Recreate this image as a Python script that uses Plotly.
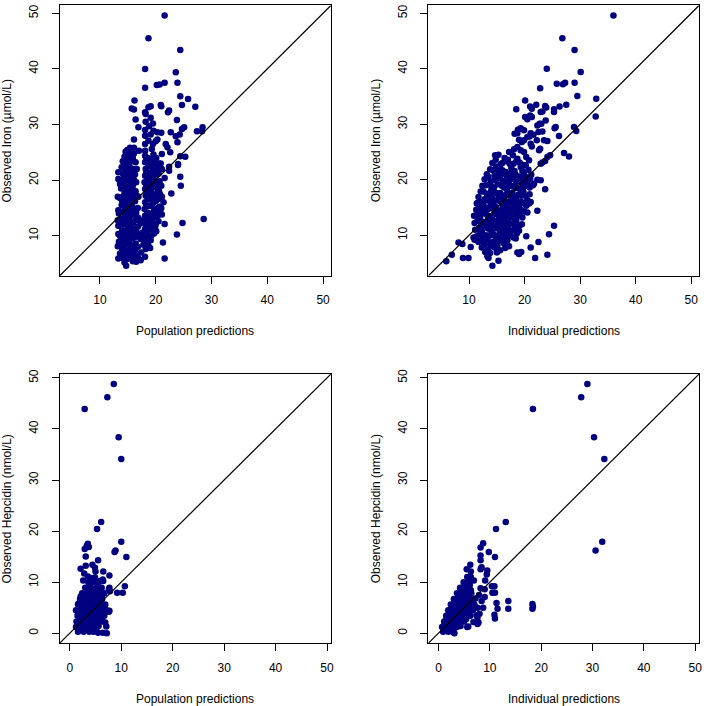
import plotly.graph_objects as go

# ---------------- data ----------------
# Panel 1: observed iron vs population predictions  [pred, obs]
iron_pop_outer = [
    [21.6,49.6],[18.7,45.5],[24.4,43.4],[18.1,40.0],[23.6,39.4],[23.9,37.5],[21.6,37.5],[20.2,37.1],
    [20.7,37.2],[18.1,36.6],[24.4,35.1],[25.8,34.6],[16.2,34.3],[24.7,33.5],[27.1,33.2],[20.9,33.5],
    [21.0,33.3],[19.1,33.3],[18.7,33.1],[15.7,32.9],[16.1,32.7],[22.4,32.5],[22.2,32.2],[18.1,32.2],
    [18.2,31.9],[23.8,30.8],[16.4,30.9],[25.1,29.5],[24.7,29.2],[28.4,29.5],[27.4,28.8],[28.3,28.8],
    [20.3,28.6],[21.0,28.5],[22.7,28.6],[23.6,27.9],[24.3,28.2],[16.9,29.5],[16.1,27.3],[20.3,27.3],
    [23.9,26.8],[21.8,26.5],[22.1,25.9],[16.1,25.8],[17.0,25.3],[22.6,25.0],[21.1,24.7],[24.4,24.3],
    [25.3,24.2],[22.4,22.4],[22.4,21.7],[24.0,22.9],[24.0,22.7],[24.4,20.6],[24.5,19.0],[22.8,17.6],
    [28.6,13.0],[24.8,12.3],[21.6,12.1],[23.8,10.2],[21.3,8.8],[21.6,5.9],[19.0,7.8],[14.7,4.6],
    [19.1,31.2],[19.5,30.2],[18.8,29.7],[18.2,30.5],[18.1,29.0],[18.1,28.0],[19.1,28.2],[19.6,28.9],
    [20.0,27.0],[19.5,26.5],[18.7,27.1],[19.3,25.6],[18.1,26.5],[18.1,25.3],
]
iron_pop_core = [
    [13.3,21.4],[13.3,20.2],[13.2,17.0],[13.3,14.6],[13.4,14.0],[13.2,12.8],[13.3,11.8],[13.3,10.3],
    [13.4,8.9],[13.2,8.1],[13.3,5.9],
    [13.9,22.3],[13.8,18.5],[14.0,16.2],[13.9,15.5],[13.8,13.0],[14.0,11.0],[13.9,9.5],[13.8,8.0],[14.0,7.3],
    [14.4,24.2],[14.5,22.0],[14.3,20.6],[14.5,19.0],[14.4,17.6],[14.3,16.0],[14.5,14.8],[14.4,13.4],
    [14.3,12.0],[14.5,10.6],[14.4,9.2],[14.3,7.8],[14.5,6.4],[14.4,5.2],
    [14.9,25.4],[15.0,24.4],[14.8,23.3],[14.9,21.2],[15.0,20.0],[14.8,18.2],[14.9,16.8],[15.0,15.4],
    [14.8,14.0],[14.9,12.7],[15.0,11.2],[14.9,9.8],[14.8,8.5],[15.0,7.2],[14.9,5.8],
    [15.4,25.8],[15.5,24.8],[15.3,22.6],[15.4,21.4],[15.5,19.4],[15.3,17.6],[15.4,16.0],[15.5,14.6],
    [15.3,13.2],[15.4,11.9],[15.5,10.4],[15.3,9.0],[15.4,7.6],[15.5,6.6],
    [15.9,24.0],[16.0,22.0],[15.8,20.5],[15.9,19.0],[16.0,17.2],[15.8,15.2],[15.9,13.8],[16.0,12.4],
    [15.8,11.0],[15.9,9.6],[16.0,8.2],[15.8,7.0],[15.9,5.4],
    [16.4,23.2],[16.3,21.0],[16.5,19.6],[16.4,18.0],[16.3,16.2],[16.5,14.2],[16.4,12.8],[16.3,11.2],
    [16.5,9.8],[16.4,8.6],[16.3,7.4],[16.5,5.3],
    [16.9,17.0],[16.8,15.0],[16.9,13.2],[16.8,11.6],[16.9,10.0],[16.8,8.0],[16.9,6.0],
    [17.3,12.2],[17.3,9.4],[17.4,7.0],[17.3,5.6],
    [17.8,12.8],[17.7,10.6],[17.8,8.4],
    [13.6,19.3],[13.6,16.8],[13.6,12.2],[13.6,10.0],[13.6,6.8],[14.1,23.4],[14.1,21.2],[14.1,19.8],
    [14.1,17.0],[14.1,14.3],[14.1,12.5],[14.1,10.2],[14.1,8.6],[14.1,6.0],[14.6,25.1],[14.6,23.0],
    [14.6,21.5],[14.6,18.4],[14.6,15.5],[14.6,12.7],[14.6,10.0],[14.6,7.1],[15.2,23.8],[15.2,22.0],
    [15.2,20.6],[15.2,18.8],[15.2,17.2],[15.2,15.0],[15.2,13.0],[15.2,11.0],[15.2,8.6],[15.2,6.2],
    [15.7,23.5],[15.7,21.6],[15.7,18.2],[15.7,16.6],[15.7,14.0],[15.7,12.2],[15.7,9.8],[15.7,8.0],
    [16.1,24.8],[16.1,20.0],[16.1,17.8],[16.1,14.6],[16.1,10.4],[16.1,6.4],[16.6,22.0],[16.6,17.2],
    [16.6,13.4],[16.6,10.6],[16.6,6.4],
    [18.1,24.4],[18.1,23.2],[18.2,22.0],[18.1,20.8],[18.0,19.6],[18.1,18.4],[18.2,17.2],[18.1,16.0],
    [18.0,14.8],[18.1,13.6],[18.2,12.4],[18.1,11.2],[18.0,10.0],[18.1,8.8],[18.2,7.6],[18.1,6.2],
    [18.6,24.0],[18.7,22.6],[18.5,21.4],[18.6,20.2],[18.7,19.0],[18.5,17.8],[18.6,16.6],[18.7,15.4],
    [18.5,14.2],[18.6,13.0],[18.7,11.8],[18.5,10.6],[18.6,9.4],[18.7,8.2],
    [19.1,23.8],[19.2,22.4],[19.0,21.0],[19.1,19.6],[19.2,18.2],[19.0,16.8],[19.1,15.4],[19.2,14.0],
    [19.0,12.6],[19.1,11.2],[19.2,10.0],[19.1,9.2],
    [19.6,24.6],[19.7,23.0],[19.5,21.6],[19.6,20.2],[19.7,18.8],[19.5,17.4],[19.6,16.0],[19.7,14.6],
    [19.5,13.2],[19.6,11.8],[19.7,10.4],
    [20.1,24.0],[20.2,22.2],[20.0,20.8],[20.1,19.2],[20.2,17.6],[20.0,16.2],[20.1,14.8],[20.2,13.4],
    [20.0,12.0],[20.1,10.8],
    [20.6,23.0],[20.5,21.2],[20.7,19.8],[20.6,18.0],[20.5,16.6],[20.7,15.2],[20.6,13.8],[20.5,12.6],
    [21.1,22.0],[21.0,19.0],[21.1,17.0],[21.0,15.0],[21.1,13.8],[21.6,20.4],[21.4,16.0],[20.9,23.0],
    [18.3,24.0],[18.3,21.4],[18.3,18.8],[18.3,15.4],[18.3,12.0],[18.3,9.4],[18.9,23.2],[18.9,20.6],
    [18.9,17.2],[18.9,13.6],[18.9,10.0],[19.4,22.6],[19.4,19.0],[19.4,15.8],[19.4,12.4],[19.9,23.4],
    [19.9,19.8],[19.9,16.8],[19.9,13.8],[19.9,11.4],[20.4,21.8],[20.4,18.4],[20.4,15.0],[20.8,17.4],
    [20.8,14.4],
]

# Panel 2: observed iron vs individual predictions  [pred, obs]
iron_ind_outer = [
    [36.0,49.6],[26.8,45.5],[29.0,43.4],[24.0,40.0],[30.1,39.4],[22.8,36.5],[25.8,37.3],[26.9,37.2],
    [27.3,37.5],[29.0,37.5],[29.5,35.1],[32.9,34.6],[20.1,34.3],[27.5,33.5],[26.3,33.2],[23.7,33.3],
    [23.9,33.0],[21.0,33.2],[21.3,32.8],[22.1,33.5],[18.5,32.7],[25.3,32.7],[25.3,32.2],[22.9,32.2],
    [23.2,32.3],[32.8,31.4],[23.8,30.7],[20.1,31.3],[20.5,30.9],[21.0,31.6],[21.3,31.3],[25.6,29.5],
    [25.4,29.3],[28.9,29.5],[29.3,28.8],[22.7,30.1],[23.0,30.1],[22.3,29.8],[23.2,28.7],[22.5,28.6],
    [26.2,27.9],[18.8,29.0],[19.3,29.3],[19.9,28.9],[18.2,28.3],[18.7,28.4],[21.1,28.4],[21.6,28.1],
    [20.5,27.7],[20.9,27.8],[19.0,27.2],[19.5,26.8],[19.9,27.1],[23.5,27.1],[24.1,27.0],[22.2,27.1],
    [21.1,26.5],[21.3,26.0],[27.1,24.8],[28.0,24.2],[24.6,24.4],[24.1,24.1],[22.8,25.6],[22.6,25.3],
    [23.7,23.4],[23.2,23.1],[22.9,22.9],[19.9,25.0],[19.3,25.3],[14.7,24.4],[23.7,18.3],[22.3,20.0],
    [22.9,19.9],[21.5,19.0],[21.7,19.3],[20.8,15.7],[22.3,14.4],[11.4,15.7],[25.3,11.7],[24.4,10.2],
    [20.3,9.8],[22.5,8.8],[21.1,7.8],[18.7,6.9],[19.0,6.6],[19.4,7.0],[24.1,6.5],[21.9,5.9],
    [15.3,5.4],[14.2,4.5],[13.3,6.2],[13.5,5.9],[8.9,5.9],[9.9,5.9],[6.9,6.5],[5.9,5.3],
    [8.1,8.7],[8.8,8.4],[10.3,7.9],[10.8,9.6],[11.0,9.2],[17.2,25.0],[18.1,25.5],[18.7,25.9],
]
iron_ind_core = [
    [15.3,24.5],[16.4,23.9],[17.9,24.4],[18.7,23.8],[20.3,24.1],
    [14.2,23.0],[15.7,22.8],[16.5,23.4],[17.3,22.9],[18.5,23.3],[19.6,22.7],[20.8,23.5],
    [13.8,21.9],[14.9,22.4],[16.0,21.7],[17.6,22.1],[18.2,21.6],[19.3,22.3],[20.7,21.8],
    [13.2,21.0],[14.6,20.8],[15.4,21.4],[16.8,20.7],[17.7,21.3],[19.0,20.6],[19.9,21.1],[21.2,20.9],
    [12.8,20.1],[13.9,19.7],[15.2,20.3],[16.1,19.8],[17.4,20.0],[18.5,19.6],[19.6,20.2],[20.4,19.5],
    [12.4,18.9],[13.7,19.1],[14.5,18.6],[15.9,18.9],[16.8,18.4],[18.1,18.8],[19.2,18.3],[20.3,18.9],[21.4,19.0],
    [12.1,17.9],[13.2,17.5],[14.3,17.9],[15.6,17.6],[16.5,17.2],[17.8,17.7],[18.9,17.3],[19.8,17.8],[20.9,17.4],
    [11.7,16.9],[12.8,16.5],[14.1,16.8],[15.0,16.3],[16.3,16.6],[17.2,16.1],[18.5,16.5],[19.4,16.0],[20.5,16.3],
    [11.5,15.8],[12.6,15.4],[13.9,15.7],[14.8,15.1],[16.0,15.5],[17.0,15.0],[18.1,15.4],[19.1,14.9],[20.3,15.3],[21.1,16.0],
    [11.3,14.6],[12.4,14.2],[13.4,14.7],[14.6,14.1],[15.7,14.5],[16.6,13.9],[17.9,14.4],[18.8,13.8],[19.9,14.3],
    [10.9,13.5],[12.0,13.1],[13.3,13.6],[14.2,12.9],[15.4,13.4],[16.4,12.8],[17.5,13.3],[18.5,12.7],[19.6,13.2],[20.5,14.1],
    [11.0,12.2],[12.2,11.9],[13.0,12.4],[14.4,11.8],[15.2,12.3],[16.6,11.7],[17.4,12.1],[18.7,11.6],[19.5,12.0],
    [11.1,11.0],[12.3,10.7],[13.4,11.2],[14.1,10.5],[15.5,10.9],[16.3,10.4],[17.7,10.8],[18.6,10.3],
    [11.4,9.8],[12.5,9.5],[13.7,9.9],[14.8,9.3],[15.8,9.7],[16.9,9.1],[18.0,9.6],[19.0,10.8],
    [11.7,8.8],[12.9,8.4],[13.9,8.7],[15.1,8.2],[16.2,8.6],[17.2,8.0],
    [12.3,7.8],[13.4,7.4],[14.5,7.9],[15.6,7.3],[16.5,7.7],
    [12.9,7.0],[13.8,6.8],[15.0,6.9],
    [14.0,18.1],[15.3,16.9],[16.9,17.8],[17.6,16.8],[18.3,14.1],[15.9,12.9],[17.0,11.3],[13.6,12.6],
    [16.1,14.2],[17.3,14.7],[18.4,11.0],[14.7,9.9],[13.0,15.0],[12.0,14.7],[17.1,19.3],[19.7,19.2],
    [14.8,23.6],[16.0,23.0],[17.0,23.6],[18.0,22.9],[19.1,23.1],[20.2,22.6],
    [14.3,21.7],[15.5,22.0],[16.6,21.4],[17.1,21.1],[18.4,20.9],[19.6,21.6],[20.2,20.5],
    [13.5,20.5],[14.6,19.9],[15.7,20.8],[16.7,19.6],[17.9,20.4],[19.0,19.7],[21.0,20.1],
    [13.0,19.0],[14.1,18.7],[15.2,19.2],[16.3,18.6],[17.5,18.9],[18.6,18.5],[19.8,18.6],[20.9,18.6],
    [12.6,17.9],[13.7,17.2],[14.9,17.6],[16.0,17.1],[17.3,17.4],[18.3,17.0],[19.4,17.1],[20.3,17.0],
    [12.2,16.0],[13.3,16.3],[14.4,15.9],[15.6,16.1],[16.6,15.6],[17.7,15.9],[18.8,15.6],[19.8,15.8],
    [11.9,15.0],[13.0,14.5],[14.1,14.9],[15.2,14.4],[16.2,14.9],[17.3,14.3],[18.4,14.8],[19.4,14.5],
    [11.6,13.6],[12.7,13.9],[13.8,13.3],[14.9,13.8],[16.0,13.4],[17.0,13.7],[18.1,13.1],[19.1,13.6],
    [11.5,12.6],[12.6,12.4],[13.7,12.0],[14.8,12.5],[15.9,11.9],[17.0,12.5],[18.1,12.2],[19.1,11.8],
    [11.8,11.3],[12.9,11.6],[13.9,11.0],[15.0,11.3],[16.0,11.1],[17.2,10.6],[18.2,11.4],
    [12.0,10.3],[13.1,10.0],[14.3,10.3],[15.3,10.0],[16.4,9.9],[17.4,9.9],[18.4,9.4],
    [12.3,9.1],[13.3,9.2],[14.4,8.8],[15.5,9.1],[16.5,8.9],
    [12.7,8.3],[13.9,8.0],[14.9,7.6],
]

# Panel 3: observed hepcidin vs population predictions  [pred, obs]
hep_pop_outer = [
    [8.55,48.8],[7.3,46.2],[2.9,43.9],[9.5,38.4],[10.0,34.1],[6.1,21.8],[5.3,20.4],[10.0,17.9],
    [8.7,15.9],[8.9,16.2],[11.0,14.9],[3.5,17.5],[3.3,17.1],[2.9,16.5],[3.7,16.9],[3.1,15.0],
    [5.5,14.3],[2.1,12.6],[2.8,11.7],[3.1,13.2],[4.4,13.4],[4.9,12.8],[5.0,12.1],[6.5,12.1],
    [7.7,11.3],[2.6,10.3],[10.7,9.2],[9.2,7.9],[10.3,7.9],[7.6,8.6],[6.9,2.1],[7.1,1.3],
    [5.5,0.1],[6.4,0.1],[7.2,0.0],[5.6,1.4],[3.5,11.1],[4.5,10.5],[5.8,10.2],[6.4,10.5],
    [7.7,8.9],[7.7,4.4],
]
hep_pop_core = [
    [1.6,0.3],[2.7,0.3],[3.8,0.3],[4.6,0.3],
    [1.2,1.2],[2.2,1.2],[3.3,1.2],[4.4,1.2],[5.3,1.2],
    [1.3,2.3],[2.4,2.3],[3.5,2.3],[4.6,2.3],[5.7,2.3],[6.4,2.3],
    [1.5,3.4],[2.6,3.4],[3.7,3.4],[4.8,3.4],[5.9,3.4],[6.7,3.4],
    [1.2,4.5],[2.2,4.5],[3.3,4.5],[4.4,4.5],[5.5,4.5],[6.5,4.5],[7.2,4.5],
    [1.6,5.6],[2.7,5.6],[3.8,5.6],[4.9,5.6],[6.0,5.6],[6.9,5.6],
    [2.0,6.7],[3.1,6.7],[4.2,6.7],[5.3,6.7],[6.3,6.7],
    [2.4,7.8],[3.5,7.8],[4.6,7.8],[5.7,7.8],[6.7,7.8],
    [3.0,8.9],[4.1,8.9],[5.2,8.9],[6.2,8.9],
    [3.6,10.0],[4.6,10.0],[5.6,10.0],
    [7.6,4.2],[7.8,8.2],[2.1,7.2],[1.7,5.8],[4.2,10.8],[4.9,10.9],[6.5,10.2],[3.9,9.5],
    [2.1,0.8],[3.2,0.7],[4.1,0.9],[1.8,1.8],[2.9,1.7],[3.9,1.9],[5.0,1.7],[2.0,2.9],
    [3.1,2.8],[4.2,3.0],[5.3,2.9],[6.2,3.0],[1.8,4.0],[2.8,3.9],[3.9,4.1],[5.0,4.0],
    [6.0,4.1],[2.2,5.1],[3.3,5.0],[4.4,5.2],[5.5,5.1],[6.5,5.0],[2.5,6.2],[3.6,6.1],
    [4.7,6.3],[5.8,6.2],[3.0,7.3],[4.1,7.2],[5.2,7.4],[6.2,7.3],[3.5,8.4],[4.6,8.3],[5.7,8.5],
]

# Panel 4: observed hepcidin vs individual predictions  [pred, obs]
hep_ind_outer = [
    [29.0,48.8],[27.8,46.2],[18.4,43.9],[30.3,38.4],[32.3,34.1],[13.1,21.8],[11.2,20.4],[31.9,17.9],
    [30.6,16.2],[8.7,17.6],[8.2,16.8],[9.8,15.9],[11.0,14.9],[8.2,15.2],[8.2,14.3],[6.2,13.4],
    [5.5,12.5],[6.3,12.1],[8.4,12.9],[8.2,12.5],[9.5,12.3],[9.4,11.5],[9.1,10.3],[6.9,10.3],
    [10.9,9.2],[10.4,9.2],[9.0,8.6],[8.2,8.8],[10.5,7.9],[11.0,7.9],[9.0,7.1],[13.6,6.3],
    [13.6,4.8],[11.3,5.9],[11.5,4.8],[10.9,3.6],[11.0,2.9],[18.3,5.7],[18.4,5.2],[18.3,4.8],
    [8.4,6.3],[8.7,5.0],[7.4,3.5],[7.6,3.0],[7.8,2.1],[7.6,1.8],[5.6,1.2],[3.1,0.0],
]
hep_ind_core = [
    [0.9,0.3],[1.9,0.3],[2.8,0.3],
    [0.7,1.2],[1.6,1.2],[2.6,1.2],[3.6,1.2],
    [1.1,2.3],[2.1,2.3],[3.1,2.3],[4.1,2.3],[5.0,2.3],
    [1.5,3.4],[2.5,3.4],[3.5,3.4],[4.5,3.4],[5.5,3.4],[6.2,3.4],
    [1.9,4.5],[2.9,4.5],[3.9,4.5],[4.9,4.5],[5.9,4.5],[6.7,4.5],
    [2.4,5.6],[3.4,5.6],[4.4,5.6],[5.4,5.6],[6.4,5.6],[7.0,5.6],
    [3.0,6.7],[4.0,6.7],[5.0,6.7],[6.0,6.7],[6.7,6.7],
    [3.6,7.8],[4.6,7.8],[5.6,7.8],[6.4,7.8],
    [4.2,8.9],[5.1,8.9],[6.0,8.9],
    [4.9,10.0],[5.8,10.0],
    [5.6,11.0],[6.3,11.0],
    [7.6,5.0],[8.0,3.8],[6.8,2.2],[5.8,1.3],[7.2,6.8],[7.9,7.5],[4.3,1.4],[3.0,0.2],
    [1.4,0.7],[2.3,0.8],[1.2,1.8],[2.1,1.7],[3.1,1.8],[4.0,1.9],[1.6,2.9],[2.6,2.8],
    [3.6,2.9],[4.6,3.0],[5.4,2.8],[2.0,3.9],[3.0,4.0],[4.0,3.9],[5.0,4.0],[5.9,3.9],
    [2.6,5.0],[3.6,5.1],[4.6,5.0],[5.6,5.1],[6.4,5.0],[3.2,6.2],[4.2,6.1],[5.2,6.2],
    [6.2,6.1],[3.9,7.3],[4.9,7.2],[5.9,7.3],[4.5,8.4],[5.5,8.3],[6.3,8.4],[5.2,9.5],[6.1,9.5],
]

x_labels = ["Population predictions", "Individual predictions",
            "Population predictions", "Individual predictions"]
y_labels = ["Observed Iron (µmol/L)", "Observed Iron (µmol/L)",
            "Observed Hepcidin (nmol/L)", "Observed Hepcidin (nmol/L)"]

# ---------------- figure ----------------
W = H = 706
FONT = "Liberation Sans, Arial, Helvetica, sans-serif"
POINT_COLOR = "#000080"

panels = [iron_pop_outer + iron_pop_core, iron_ind_outer + iron_ind_core,
          hep_pop_outer + hep_pop_core, hep_ind_outer + hep_ind_core]

# plot boxes in pixels: (left, right, top, bottom)
boxes = [(60, 332.3, 0.5, 272.7), (430.3, 702, 0.5, 272.7),
         (60, 332.3, 371.7, 642.7), (430.3, 702, 371.7, 642.7)]


def lim(pts):
    vals = [v for p in pts for v in p]
    lo, hi = min(vals), max(vals)
    d = hi - lo
    return [lo - 0.04 * d, hi + 0.04 * d]


fig = go.Figure()
layout = dict(width=W, height=H, margin=dict(l=0, r=0, t=0, b=0),
              paper_bgcolor="white", plot_bgcolor="white", showlegend=False,
              font=dict(family=FONT, size=12, color="black"))
annotations = []

for i, pts in enumerate(panels):
    n = i + 1
    xa = "x" if n == 1 else f"x{n}"
    ya = "y" if n == 1 else f"y{n}"
    rng = lim(pts)
    fig.add_trace(go.Scatter(x=[p[0] for p in pts], y=[p[1] for p in pts], mode="markers",
                             xaxis=xa, yaxis=ya,
                             marker=dict(size=6.5, color=POINT_COLOR, line=dict(width=0))))
    fig.add_trace(go.Scatter(x=rng, y=rng, mode="lines", xaxis=xa, yaxis=ya,
                             line=dict(color="black", width=1.2)))
    l, r, t, b = boxes[i]
    common = dict(range=rng, showline=True, mirror=True, linecolor="black", linewidth=1,
                  ticks="outside", ticklen=7, tickwidth=1, tickcolor="black",
                  tick0=0, dtick=10, showgrid=False, zeroline=False,
                  tickfont=dict(family=FONT, size=12, color="black"))
    layout[f"xaxis{'' if n == 1 else n}"] = dict(
        common, domain=[l / W, r / W], anchor=ya, ticklabelstandoff=6)
    layout[f"yaxis{'' if n == 1 else n}"] = dict(
        common, domain=[1 - b / H, 1 - t / H], anchor=xa, tickangle=-90, ticklabelstandoff=9)
    # axis titles
    annotations.append(dict(text=x_labels[i], xref="paper", yref="paper",
                            x=(l + r) / 2 / W, y=1 - (b + 56) / H, showarrow=False,
                            xanchor="center", yanchor="middle",
                            font=dict(family=FONT, size=12, color="black")))
    annotations.append(dict(text=y_labels[i], xref="paper", yref="paper",
                            x=(l - 53) / W, y=1 - (t + b) / 2 / H, showarrow=False,
                            textangle=-90, xanchor="center", yanchor="middle",
                            font=dict(family=FONT, size=12, color="black")))

layout["annotations"] = annotations
fig.update_layout(**layout)
fig.write_html("out.html", config={"displayModeBar": False},
               post_script="document.body.style.margin='0';document.body.style.padding='0';"
                           "document.documentElement.style.overflow='hidden';")
